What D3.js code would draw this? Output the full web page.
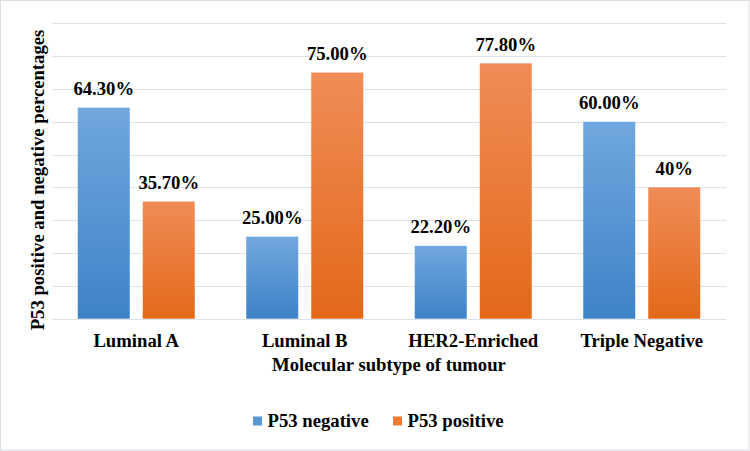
<!DOCTYPE html>
<html>
<head>
<meta charset="utf-8">
<script src="https://cdn.jsdelivr.net/npm/d3@7"></script>
<style>
  html, body { margin: 0; padding: 0; background: #fff; }
</style>
</head>
<body>
<div id="chart"></div>
<script>
// Chart data
const categories = ["Luminal A", "Luminal B", "HER2-Enriched", "Triple Negative"];
const seriesNames = ["P53 negative", "P53 positive"];
const negativeValues = [64.3, 25.0, 22.2, 60.0];
const positiveValues = [35.7, 75.0, 77.8, 40.0];
const valueLabels = [
  ["64.30%", "25.00%", "22.20%", "60.00%"],
  ["35.70%", "75.00%", "77.80%", "40%"],
];
const gridTicks = [0, 10, 20, 30, 40, 50, 60, 70, 80, 90];

const width = 750;
const height = 451;
const marginTop = 23.3;
const marginBottom = 132.3; // baseline sits at y = 318.7
const plotLeft = 52;
const plotRight = 726;
const font = "'Liberation Serif', 'Times New Roman', serif";
const fontSize = "18.7px";

const rows = categories.map((c, i) => ({
  category: c,
  values: [negativeValues[i], positiveValues[i]],
}));

const x0 = d3.scaleBand().domain(categories).range([plotLeft, plotRight]);
const groupPad = (x0.bandwidth() - 117) / 2;
const x1 = d3
  .scaleBand()
  .domain(seriesNames)
  .range([groupPad, x0.bandwidth() - groupPad])
  .paddingInner(0.2);

const y = d3
  .scaleLinear()
  .domain([0, 90])
  .range([height - marginBottom, marginTop]);

const svg = d3
  .select("#chart")
  .append("svg")
  .attr("width", width)
  .attr("height", height)
  .attr("viewBox", [0, 0, width, height]);

// gradients (lighter top, darker bottom)
const defs = svg.append("defs");
const gradients = [
  { id: "gradBlue", top: "#70a7de", bottom: "#3e83c7" },
  { id: "gradOrange", top: "#f08c58", bottom: "#e36918" },
];
gradients.forEach((g) => {
  const lg = defs
    .append("linearGradient")
    .attr("id", g.id)
    .attr("x1", 0)
    .attr("y1", 0)
    .attr("x2", 0)
    .attr("y2", 1);
  lg.append("stop").attr("offset", "0%").attr("stop-color", g.top);
  lg.append("stop").attr("offset", "100%").attr("stop-color", g.bottom);
});
const legendColors = ["#5a98d6", "#ee7a35"];

// background + border
svg
  .append("rect")
  .attr("x", 0.5)
  .attr("y", 0.5)
  .attr("width", width - 1.5)
  .attr("height", height - 1.5)
  .attr("fill", "#fff")
  .attr("stroke", "#d9dee5");

// gridlines
svg
  .append("g")
  .selectAll("line")
  .data(gridTicks)
  .join("line")
  .attr("x1", plotLeft)
  .attr("x2", plotRight)
  .attr("y1", (d) => Math.round(y(d)) + 0.5)
  .attr("y2", (d) => Math.round(y(d)) + 0.5)
  .attr("stroke", "#dde2e9")
  .attr("stroke-width", 1);

// bars
const groups = svg
  .append("g")
  .selectAll("g")
  .data(rows)
  .join("g")
  .attr("transform", (d) => `translate(${x0(d.category)},0)`);

groups
  .selectAll("rect")
  .data((d) => d.values.map((v, i) => ({ series: seriesNames[i], i, v })))
  .join("rect")
  .attr("x", (d) => x1(d.series))
  .attr("y", (d) => y(d.v))
  .attr("width", x1.bandwidth())
  .attr("height", (d) => y(0) - y(d.v))
  .attr("fill", (d) => `url(#${gradients[d.i].id})`);

// value labels
groups
  .selectAll("text")
  .data((d, ci) =>
    d.values.map((v, i) => ({ series: seriesNames[i], v, label: valueLabels[i][ci] })),
  )
  .join("text")
  .attr("x", (d) => x1(d.series) + x1.bandwidth() / 2)
  .attr("y", (d) => y(d.v) - 12.5)
  .attr("text-anchor", "middle")
  .attr("font-family", font)
  .attr("font-size", fontSize)
  .attr("font-weight", "700")
  .attr("fill", "#000")
  .text((d) => d.label);

// x axis labels
svg
  .append("g")
  .attr("transform", `translate(0,${y(0)})`)
  .call(d3.axisBottom(x0).tickSize(0).tickPadding(0))
  .call((g) => g.select(".domain").remove())
  .call((g) =>
    g
      .selectAll(".tick text")
      .attr("dy", null)
      .attr("y", 28)
      .attr("font-family", font)
      .attr("font-size", fontSize)
      .attr("font-weight", "700")
      .attr("fill", "#000"),
  );

// axis titles
svg
  .append("text")
  .attr("x", (plotLeft + plotRight) / 2)
  .attr("y", 370.5)
  .attr("text-anchor", "middle")
  .attr("font-family", font)
  .attr("font-size", fontSize)
  .attr("font-weight", "700")
  .attr("fill", "#000")
  .text("Molecular subtype of tumour");

svg
  .append("text")
  .attr("transform", "translate(44,180) rotate(-90)")
  .attr("text-anchor", "middle")
  .attr("font-family", font)
  .attr("font-size", fontSize)
  .attr("font-weight", "700")
  .attr("fill", "#000")
  .text("P53 positive and negative percentages");

// legend
const legendX = [253, 393];
const legend = svg
  .append("g")
  .selectAll("g")
  .data(seriesNames)
  .join("g")
  .attr("transform", (d, i) => `translate(${legendX[i]},416.5)`);

legend
  .append("rect")
  .attr("width", 9)
  .attr("height", 9)
  .attr("fill", (d, i) => legendColors[i]);

legend
  .append("text")
  .attr("x", 14.5)
  .attr("y", 10.5)
  .attr("font-family", font)
  .attr("font-size", fontSize)
  .attr("font-weight", "700")
  .attr("fill", "#000")
  .text((d) => d);
</script>
</body>
</html>
